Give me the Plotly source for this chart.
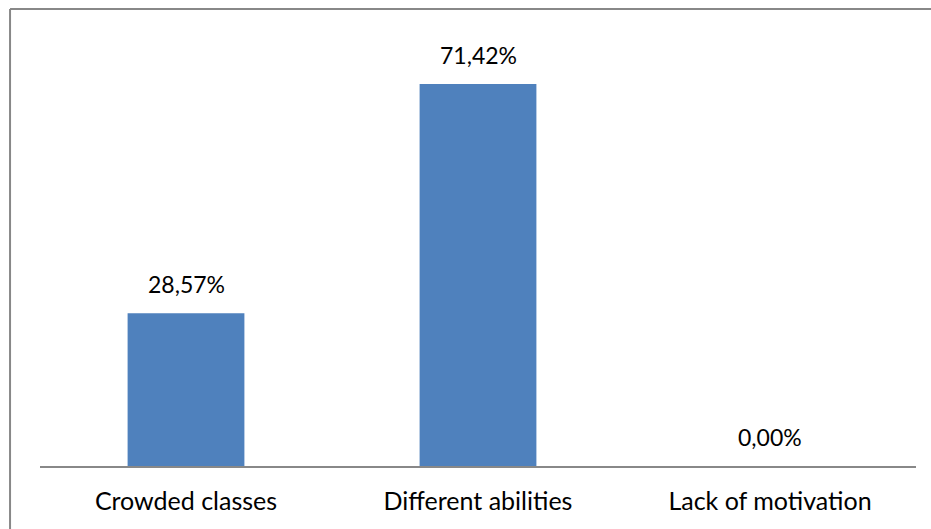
import plotly.graph_objects as go

categories = ["Crowded classes", "Different abilities", "Lack of motivation"]
values = [28.57, 71.42, 0.00]

labels = [f"{v:.2f}".replace(".", ",") + "%" for v in values]

FONT = "Lato, 'Open Sans', sans-serif"

fig = go.Figure(
    go.Bar(
        x=categories,
        y=values,
        marker=dict(color="#4F81BD", line=dict(width=0)),
        hoverinfo="skip",
    )
)

for cat, val, lab in zip(categories, values, labels):
    fig.add_annotation(
        x=cat, y=val, text=lab, showarrow=False,
        yanchor="bottom", yshift=13,
        font=dict(family=FONT, size=23, color="#000000"),
    )

# outer frame: only the left and top edges fall inside the page
frame = dict(color="#888888", width=2)
fig.add_shape(type="line", xref="paper", yref="paper",
              x0=-0.0342, x1=1.2, y0=1.0678, y1=1.0678, line=frame)
fig.add_shape(type="line", xref="paper", yref="paper",
              x0=-0.0342, x1=-0.0342, y0=-0.3, y1=1.0678, line=frame)

fig.update_layout(
    width=931, height=529,
    margin=dict(l=40, r=15, t=38, b=63),
    paper_bgcolor="white", plot_bgcolor="white",
    bargap=0.6,
    showlegend=False,
    font=dict(family=FONT, size=25, color="#000000"),
)
fig.update_xaxes(
    showline=True, linecolor="#888888", linewidth=2,
    ticks="", showgrid=False, zeroline=False,
    tickfont=dict(family=FONT, size=25, color="#000000"),
    ticklabelstandoff=12,
    fixedrange=True,
)
fig.update_yaxes(
    range=[0, 80], visible=False, showgrid=False, zeroline=False,
    fixedrange=True,
)

fig.write_html("out.html", config={"displayModeBar": False})
